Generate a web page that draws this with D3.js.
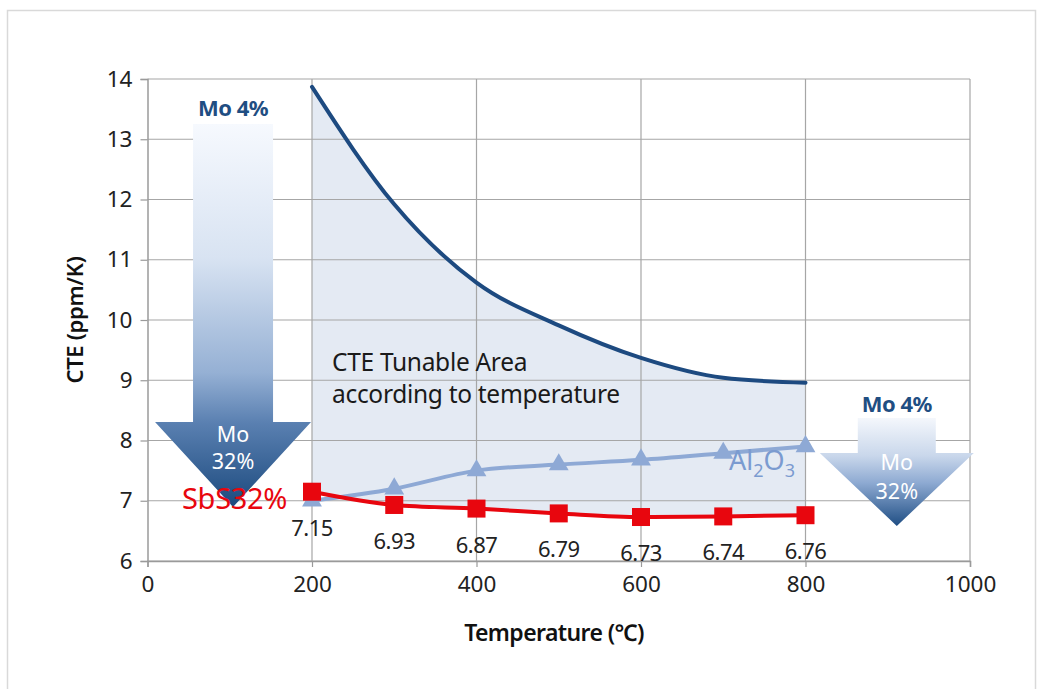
<!DOCTYPE html>
<html><head><meta charset="utf-8">
<script src="https://cdn.jsdelivr.net/npm/d3@7"></script>
<style>
html,body{margin:0;padding:0;background:#fff;}
svg{display:block;font-family:"Noto Sans","Open Sans",sans-serif;}
</style></head>
<body>
<svg id="chart" width="1042" height="689"></svg>
<script>
// ---- data ----
const temps = [200, 300, 400, 500, 600, 700, 800];
const upperCTE = [13.87, 11.92, 10.62, 9.91, 9.37, 9.04, 8.96];
const al2o3CTE = [7.0, 7.2, 7.5, 7.6, 7.68, 7.79, 7.9];
const sbsCTE = [7.15, 6.93, 6.87, 6.79, 6.73, 6.74, 6.76];
const sbsLabels = ["7.15", "6.93", "6.87", "6.79", "6.73", "6.74", "6.76"];
const xTicks = [0, 200, 400, 600, 800, 1000];
const yTicks = [6, 7, 8, 9, 10, 11, 12, 13, 14];

const svg = d3.select("#chart");
// outer frame
svg.append("rect").attr("x", 7.5).attr("y", 10.5).attr("width", 1028).attr("height", 700)
  .attr("fill", "#fff").attr("stroke", "#d9d9d9").attr("stroke-width", 1.5);

const x = d3.scaleLinear().domain([0, 1000]).range([147.5, 970]);
const y = d3.scaleLinear().domain([6, 14]).range([561, 79]);

const defs = svg.append("defs");
const g1 = defs.append("linearGradient").attr("id", "gradL").attr("x1", 0).attr("y1", 0).attr("x2", 0).attr("y2", 1);
[[0, "#f6f9fe"], [0.35, "#d8e3f2"], [0.65, "#95b0d4"], [0.78, "#5a80b1"], [1, "#1c4a7e"]]
  .forEach(s => g1.append("stop").attr("offset", s[0]).attr("stop-color", s[1]));
const g2 = defs.append("linearGradient").attr("id", "gradR").attr("x1", 0).attr("y1", 0).attr("x2", 0).attr("y2", 1);
[[0, "#f4f7fc"], [0.35, "#c9d7eb"], [0.6, "#8eaad2"], [1, "#1f4e84"]]
  .forEach(s => g2.append("stop").attr("offset", s[0]).attr("stop-color", s[1]));

// shaded tunable area
const pts = temps.map((t, i) => ({t, up: upperCTE[i], lo: sbsCTE[i], al: al2o3CTE[i]}));
svg.append("path").datum(pts)
  .attr("d", d3.area().x(d => x(d.t)).y0(d => y(d.lo)).y1(d => y(d.up)).curve(d3.curveMonotoneX))
  .attr("fill", "#e4eaf3");

// grid
svg.append("g").selectAll("line").data(yTicks).join("line")
  .attr("x1", x(0)).attr("x2", x(1000)).attr("y1", d => y(d)).attr("y2", d => y(d))
  .attr("stroke", "#a6a6a6").attr("stroke-width", 1.2);
svg.append("g").selectAll("line").data(xTicks.filter(d => d > 0)).join("line")
  .attr("x1", d => x(d)).attr("x2", d => x(d)).attr("y1", y(14)).attr("y2", y(6))
  .attr("stroke", "#a6a6a6").attr("stroke-width", 1.2);

// axes
const xAxis = svg.append("g").attr("transform", `translate(0,${y(6)})`)
  .call(d3.axisBottom(x).tickValues(xTicks).tickFormat(d3.format("d")).tickSize(6).tickPadding(9));
const yAxis = svg.append("g").attr("transform", `translate(${x(0)},0)`)
  .call(d3.axisLeft(y).tickValues(yTicks).tickSize(7).tickPadding(8));
[xAxis, yAxis].forEach(a => {
  a.select(".domain").attr("stroke", "#9a9a9a").attr("stroke-width", 1.5);
  a.selectAll(".tick line").attr("stroke", "#9a9a9a").attr("stroke-width", 1.2);
  a.selectAll("text").attr("fill", "#222").attr("font-size", 22.5).attr("font-family", "Noto Sans, sans-serif");
});

// axis titles
svg.append("text").attr("x", 554).attr("y", 641).attr("text-anchor", "middle")
  .attr("font-size", 23).attr("font-weight", 600).attr("fill", "#111").attr("letter-spacing", -0.6)
  .text("Temperature (℃)");
svg.append("text").attr("transform", "translate(83,320) rotate(-90)").attr("text-anchor", "middle")
  .attr("font-size", 22).attr("font-weight", 600).attr("fill", "#111").attr("letter-spacing", -0.3)
  .text("CTE  (ppm/K)");

// upper curve
svg.append("path").datum(pts)
  .attr("d", d3.line().x(d => x(d.t)).y(d => y(d.up)).curve(d3.curveMonotoneX))
  .attr("fill", "none").attr("stroke", "#1d4a80").attr("stroke-width", 4).attr("stroke-linecap", "round");

// left arrow
const la = {cx: x(104), top: 124, neck: 422, tip: 507, sw: 40, hw: 78};
svg.append("path").attr("d",
  `M${la.cx - la.sw},${la.top} L${la.cx + la.sw},${la.top} L${la.cx + la.sw},${la.neck} L${la.cx + la.hw},${la.neck} L${la.cx},${la.tip} L${la.cx - la.hw},${la.neck} L${la.cx - la.sw},${la.neck} Z`)
  .attr("fill", "url(#gradL)");
svg.append("text").attr("x", la.cx).attr("y", 116).attr("text-anchor", "middle")
  .attr("font-size", 22).attr("font-weight", 700).attr("fill", "#1f4e82").attr("letter-spacing", -0.5).text("Mo 4%");
svg.append("text").attr("x", la.cx).attr("y", 442).attr("text-anchor", "middle")
  .attr("font-size", 21.5).attr("fill", "#fff").text("Mo");
svg.append("text").attr("x", la.cx).attr("y", 469).attr("text-anchor", "middle")
  .attr("font-size", 21.5).attr("fill", "#fff").text("32%");

// right arrow
const ra = {cx: x(911), top: 418, neck: 453, tip: 526, sw: 39, hw: 77};
svg.append("path").attr("d",
  `M${ra.cx - ra.sw},${ra.top} L${ra.cx + ra.sw},${ra.top} L${ra.cx + ra.sw},${ra.neck} L${ra.cx + ra.hw},${ra.neck} L${ra.cx},${ra.tip} L${ra.cx - ra.hw},${ra.neck} L${ra.cx - ra.sw},${ra.neck} Z`)
  .attr("fill", "url(#gradR)");
svg.append("text").attr("x", ra.cx).attr("y", 412).attr("text-anchor", "middle")
  .attr("font-size", 22).attr("font-weight", 700).attr("fill", "#1f4e82").attr("letter-spacing", -0.5).text("Mo 4%");
svg.append("text").attr("x", ra.cx).attr("y", 470).attr("text-anchor", "middle")
  .attr("font-size", 21.5).attr("fill", "#fff").text("Mo");
svg.append("text").attr("x", ra.cx).attr("y", 499).attr("text-anchor", "middle")
  .attr("font-size", 21.5).attr("fill", "#fff").text("32%");

// Al2O3 line
svg.append("path").datum(pts)
  .attr("d", d3.line().x(d => x(d.t)).y(d => y(d.al)).curve(d3.curveMonotoneX))
  .attr("fill", "none").attr("stroke", "#8ea9d5").attr("stroke-width", 4);
svg.append("g").selectAll("path").data(pts).join("path")
  .attr("transform", d => `translate(${x(d.t)},${y(d.al)})`)
  .attr("d", d3.symbol(d3.symbolTriangle, 170))
  .attr("fill", "#8ea9d5");

// SbS line
svg.append("path").datum(pts)
  .attr("d", d3.line().x(d => x(d.t)).y(d => y(d.lo)).curve(d3.curveMonotoneX))
  .attr("fill", "none").attr("stroke", "#e8060e").attr("stroke-width", 4);
svg.append("g").selectAll("rect").data(pts).join("rect")
  .attr("x", d => x(d.t) - 9).attr("y", d => y(d.lo) - 9).attr("width", 18).attr("height", 18)
  .attr("fill", "#e8060e");
svg.append("g").selectAll("text").data(pts).join("text")
  .attr("x", d => x(d.t)).attr("y", d => y(d.lo) + 44).attr("text-anchor", "middle")
  .attr("font-size", 22).attr("fill", "#222").attr("letter-spacing", -0.5)
  .text((d, i) => sbsLabels[i]);

// labels
svg.append("text").attr("x", 182).attr("y", 509).attr("font-size", 29).attr("fill", "#e8060e")
  .attr("letter-spacing", -0.3).text("SbS32%");
const al = svg.append("text").attr("x", 729).attr("y", 470).attr("font-size", 27).attr("fill", "#7b9bd0");
al.append("tspan").text("Al");
al.append("tspan").attr("font-size", 18).attr("dy", 7).text("2");
al.append("tspan").attr("dy", -7).text("O");
al.append("tspan").attr("font-size", 18).attr("dy", 7).text("3");

svg.append("text").attr("x", 332).attr("y", 371).attr("font-size", 24.5).attr("fill", "#1a1a1a")
  .attr("letter-spacing", -0.3).text("CTE Tunable Area");
svg.append("text").attr("x", 332).attr("y", 403).attr("font-size", 24.5).attr("fill", "#1a1a1a")
  .attr("letter-spacing", -0.3).text("according to temperature");
</script>
</body></html>
